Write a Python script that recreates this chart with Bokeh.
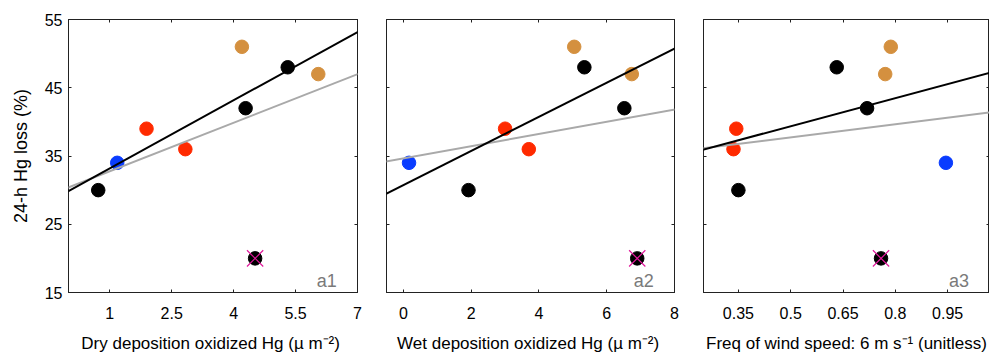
import numpy as np
from bokeh.plotting import figure
from bokeh.layouts import row
from bokeh.models import (ColumnDataSource, FixedTicker, CustomJSTickFormatter,
                          LinearAxis, Slope, Label, Range1d, CustomLabelingPolicy)
from bokeh.embed import file_html
from bokeh.resources import INLINE

# ---------------- data ----------------
hg_loss = [30, 34, 39, 36, 51, 42, 48, 47, 20]          # 24-h Hg loss (%)
dry_dep = [0.72, 1.18, 1.89, 2.83, 4.20, 4.29, 5.31, 6.05, 4.52]
wet_dep = [1.92, 0.165, 3.00, 3.70, 5.04, 6.52, 5.34, 6.74, 6.90]
wind_freq = [0.35, 0.945, 0.344, 0.336, 0.787, 0.719, 0.632, 0.771, 0.759]
point_colors = ["black", "#0a3cff", "#ff2a00", "#ff2a00", "#d4903f",
                "black", "black", "#d4903f", "black"]
excluded = [False, False, False, False, False, False, False, False, True]

panel_x = [dry_dep, wet_dep, wind_freq]
panel_tags = ["a1", "a2", "a3"]
x_labels = ["Dry deposition oxidized Hg (\u00b5  m\u207b\u00b2)",
            "Wet deposition oxidized Hg (\u00b5  m\u207b\u00b2)",
            "Freq of wind speed: 6 m s\u207b\u00b9 (unitless)"]
x_ranges = [(0, 7), (-0.5, 8), (0.25, 1.07)]
x_ticks = [[1, 2.5, 4, 5.5, 7], [0, 2, 4, 6, 8], [0.35, 0.5, 0.65, 0.8, 0.95]]
y_ticks = [15, 25, 35, 45, 55]
y_range = (15, 55)

FONT = "Liberation Sans"
FRAME = "#222222"
fmt = CustomJSTickFormatter(code="return String(tick);")
no_labels = CustomLabelingPolicy(
    code="for (const i of indices) { indices.unset(i) }; return indices")

sizes = [  # (width, left, right)
    (372, 68, 15),
    (317, 14, 15),
    (300, 14, 0),
]


def tick_only_axis(ticks):
    return LinearAxis(ticker=FixedTicker(ticks=ticks), major_tick_in=3,
                      major_tick_out=0, major_label_text_font_size="0px",
                      major_label_standoff=0, major_label_policy=no_labels,
                      minor_tick_line_color=None, axis_line_color=FRAME,
                      major_tick_line_color=FRAME)


figs = []
for i in range(3):
    w, bl, br = sizes[i]
    p = figure(width=w, height=355, output_backend="svg", toolbar_location=None,
               x_range=Range1d(*x_ranges[i]), y_range=Range1d(*y_range),
               x_axis_location=None, y_axis_location=None,
               min_border_left=bl, min_border_right=br,
               min_border_top=19, min_border_bottom=62,
               background_fill_color="white", border_fill_color="white")
    p.xgrid.visible = False
    p.ygrid.visible = False
    p.outline_line_color = FRAME
    p.outline_line_width = 1

    xa = LinearAxis(ticker=FixedTicker(ticks=x_ticks[i]), formatter=fmt)
    xa.axis_label = x_labels[i]
    xa.axis_label_text_font = FONT
    xa.axis_label_text_font_size = "17px"
    xa.axis_label_text_font_style = "normal"
    xa.axis_label_text_color = "black"
    xa.axis_label_standoff = 12
    xa.major_label_text_font = FONT
    xa.major_label_text_font_size = "16px"
    xa.major_label_text_color = "black"
    xa.major_label_standoff = 14
    xa.major_tick_in = 3
    xa.major_tick_out = 0
    xa.minor_tick_line_color = None
    xa.axis_line_color = FRAME
    xa.major_tick_line_color = FRAME
    p.add_layout(xa, "below")

    if i == 0:
        ya = LinearAxis(ticker=FixedTicker(ticks=y_ticks))
        ya.axis_label = "24-h Hg loss (%)"
        ya.axis_label_text_font = FONT
        ya.axis_label_text_font_size = "18px"
        ya.axis_label_text_font_style = "normal"
        ya.axis_label_text_color = "black"
        ya.axis_label_standoff = 11
        ya.major_label_text_font = FONT
        ya.major_label_text_font_size = "16px"
        ya.major_label_text_color = "black"
        ya.major_label_standoff = 6
        ya.major_tick_in = 3
        ya.major_tick_out = 0
        ya.minor_tick_line_color = None
        ya.axis_line_color = FRAME
        ya.major_tick_line_color = FRAME
    else:
        ya = tick_only_axis(y_ticks)
    p.add_layout(ya, "left")

    # mirrored ticks on top and right
    p.add_layout(tick_only_axis(x_ticks[i]), "above")
    p.add_layout(tick_only_axis(y_ticks), "right")

    xs = np.array(panel_x[i], dtype=float)
    ys = np.array(hg_loss, dtype=float)
    keep = ~np.array(excluded)

    src = ColumnDataSource(dict(x=xs, y=ys, c=point_colors))
    p.scatter("x", "y", source=src, size=13.5, fill_color="c", line_color="c",
              marker="circle")
    exsrc = ColumnDataSource(dict(x=xs[~keep], y=ys[~keep]))
    p.scatter("x", "y", source=exsrc, marker="x", size=23, line_color="#e0189b",
              line_width=1.2)

    # regressions: grey with all points, black excluding the crossed point
    g_all = np.polyfit(xs, ys, 1)
    g_keep = np.polyfit(xs[keep], ys[keep], 1)
    p.add_layout(Slope(gradient=g_all[0], y_intercept=g_all[1],
                       line_color="#a9a9a9", line_width=2))
    p.add_layout(Slope(gradient=g_keep[0], y_intercept=g_keep[1],
                       line_color="black", line_width=2))

    xr = x_ranges[i]
    span = xr[1] - xr[0]
    p.add_layout(Label(x=xr[1] - 0.072 * span, y=15.2, text=panel_tags[i],
                       text_align="right", text_baseline="bottom",
                       text_font=FONT, text_font_size="18px",
                       text_color="#7a7a7a"))
    figs.append(p)

layout = row(*figs, spacing=0)
open("out.html", "w").write(file_html(layout, INLINE))
